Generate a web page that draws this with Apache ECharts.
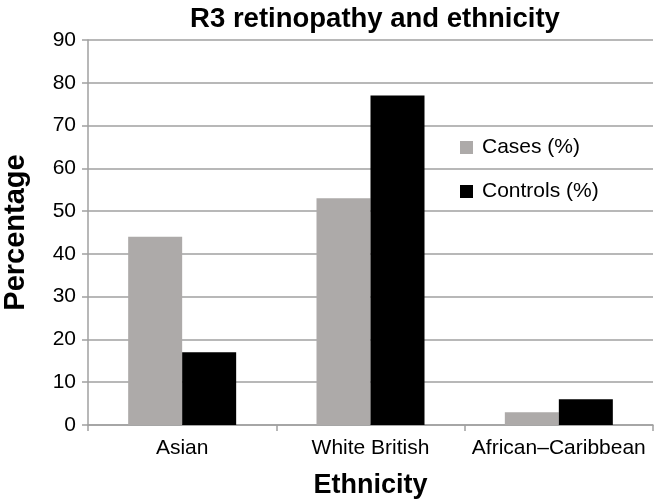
<!DOCTYPE html>
<html>
<head>
<meta charset="utf-8">
<script src="https://cdn.jsdelivr.net/npm/echarts@6/dist/echarts.min.js"></script>
<style>html,body{margin:0;padding:0;background:#fff;}#c{width:655px;height:500px;}</style>
</head>
<body>
<div id="c"></div>
<script>
const categories = ['Asian', 'White British', 'African\u2013Caribbean'];
const casesPct = [44, 53, 3];
const controlsPct = [17, 77, 6];
const seriesNames = ['Cases (%)', 'Controls (%)'];
const chartTitle = 'R3 retinopathy and ethnicity';
const xTitle = 'Ethnicity';
const yTitle = 'Percentage';

const FONT = '"Liberation Sans", Arial, Helvetica, sans-serif';
const chart = echarts.init(document.getElementById('c'), null, {renderer: 'canvas'});
chart.setOption({
  animation: false,
  backgroundColor: '#ffffff',
  textStyle: {fontFamily: FONT, color: '#000'},
  title: {
    text: chartTitle,
    left: 370, top: 0, textAlign: 'center',
    textStyle: {fontFamily: FONT, fontSize: 27.5, fontWeight: 'bold', color: '#000'}
  },
  legend: {
    orient: 'vertical', left: 455, top: 132,
    itemWidth: 13, itemHeight: 13, itemGap: 23,
    icon: 'rect',
    textStyle: {fontFamily: FONT, fontSize: 21, color: '#000', padding: [0,0,0,4]},
    data: seriesNames
  },
  grid: {left: 88, right: 2, top: 40, bottom: 75, containLabel: false, outerBoundsMode: 'none'},
  xAxis: {
    type: 'category', data: categories,
    name: xTitle, nameLocation: 'middle', nameGap: 47,
    nameTextStyle: {fontFamily: FONT, fontSize: 27, fontWeight: 'bold', color: '#000'},
    axisLine: {lineStyle: {color: '#a0a0a0', width: 1.5}},
    axisTick: {show: true, length: 6, lineStyle: {color: '#a0a0a0', width: 1.5}},
    axisLabel: {fontFamily: FONT, fontSize: 21, color: '#000', margin: 13, interval: 0, hideOverlap: false},
    splitLine: {show: false}
  },
  yAxis: {
    type: 'value', min: 0, max: 90, interval: 10,
    name: yTitle, nameLocation: 'middle', nameGap: 58, nameRotate: 90,
    nameTextStyle: {fontFamily: FONT, fontSize: 29, fontWeight: 'bold', color: '#000'},
    axisLine: {show: true, lineStyle: {color: '#a0a0a0', width: 1.5}},
    axisTick: {show: true, length: 6, lineStyle: {color: '#a0a0a0', width: 1.5}},
    axisLabel: {fontFamily: FONT, fontSize: 21, color: '#000', margin: 12},
    splitLine: {show: true, lineStyle: {color: '#a0a0a0', width: 1.5}}
  },
  series: [
    {name: seriesNames[0], type: 'bar', data: casesPct, barWidth: 54, barGap: '0%',
     itemStyle: {color: '#adaaa9'}},
    {name: seriesNames[1], type: 'bar', data: controlsPct, barWidth: 54, barGap: '0%',
     itemStyle: {color: '#000000'}}
  ]
});
</script>
</body>
</html>
